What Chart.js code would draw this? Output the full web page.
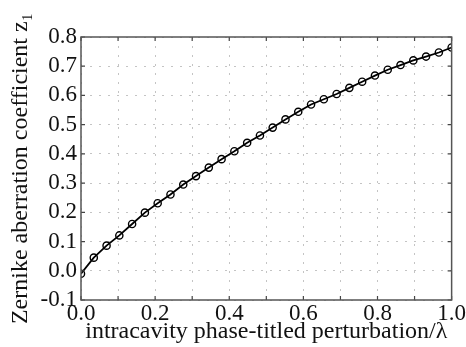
<!DOCTYPE html>
<html>
<head>
<meta charset="utf-8">
<script src="https://cdn.jsdelivr.net/npm/chart.js@4/dist/chart.umd.min.js"></script>
<style>
html,body{margin:0;padding:0;background:#fff;}
#wrap{width:466px;height:347px;}
</style>
</head>
<body>
<div id="wrap"><canvas id="c" width="466" height="347"></canvas></div>
<script>
// x positions of the sampled points (perturbation / lambda)
const perturbation = [0, 0.0345, 0.069, 0.1034, 0.1379, 0.1724, 0.2069, 0.2414, 0.2759, 0.3103,
  0.3448, 0.3793, 0.4138, 0.4483, 0.4828, 0.5172, 0.5517, 0.5862, 0.6207, 0.6552,
  0.6897, 0.7241, 0.7586, 0.7931, 0.8276, 0.8621, 0.8966, 0.9310, 0.9655, 1.0];
// Zernike aberration coefficient z1
const zernikeZ1 = [-0.01, 0.045, 0.086, 0.121, 0.160, 0.199, 0.231, 0.261, 0.295, 0.324,
  0.353, 0.382, 0.409, 0.438, 0.463, 0.490, 0.518, 0.544, 0.569, 0.587,
  0.605, 0.626, 0.647, 0.668, 0.688, 0.704, 0.720, 0.733, 0.747, 0.764];
const xTitle = 'intracavity phase-titled perturbation/\u03BB';
const yTitle = 'Zernike aberration coefficient z\u2081';

const serif = 'Liberation Serif';

const frame = {
  id: 'frame',
  afterDraw(chart) {
    const ctx = chart.ctx;
    const a = chart.chartArea;
    const xs = chart.scales.x, ys = chart.scales.y;
    ctx.save();
    ctx.strokeStyle = '#444';
    ctx.lineWidth = 1.2;
    ctx.beginPath();
    xs.ticks.forEach(t => {
      const p = xs.getPixelForValue(t.value);
      ctx.moveTo(p, a.bottom); ctx.lineTo(p, a.bottom - 4);
      ctx.moveTo(p, a.top); ctx.lineTo(p, a.top + 4);
    });
    ys.ticks.forEach(t => {
      const p = ys.getPixelForValue(t.value);
      ctx.moveTo(a.left, p); ctx.lineTo(a.left + 4, p);
      ctx.moveTo(a.right, p); ctx.lineTo(a.right - 4, p);
    });
    ctx.stroke();
    ctx.strokeStyle = '#555';
    ctx.lineWidth = 1.5;
    ctx.strokeRect(a.left, a.top, a.right - a.left, a.bottom - a.top);
    ctx.restore();
  }
};

new Chart(document.getElementById('c'), {
  type: 'line',
  data: {
    datasets: [{
      data: perturbation.map((x, i) => ({x: x, y: zernikeZ1[i]})),
      borderColor: '#000',
      borderWidth: 1.8,
      pointRadius: 3.6,
      pointBorderWidth: 1.4,
      pointBorderColor: '#000',
      pointBackgroundColor: 'rgba(255,255,255,0)',
      tension: 0
    }]
  },
  options: {
    responsive: false,
    devicePixelRatio: 1,
    animation: false,
    layout: {padding: {left: 0, top: 37, right: 14, bottom: 0}},
    plugins: {legend: {display: false}, tooltip: {enabled: false}},
    scales: {
      x: {
        type: 'linear', min: 0, max: 1,
        afterFit(s) { s.height = 47; },
        ticks: {
          stepSize: 0.1, autoSkip: false, maxRotation: 0, padding: 0,
          color: '#111', font: {family: serif, size: 23},
          callback: v => (Math.round(v * 10) % 2 === 0) ? v.toFixed(1) : ''
        },
        grid: {color: '#c4c4c4', lineWidth: 1, drawTicks: false},
        border: {display: false, dash: [2, 7]},
        title: {display: true, text: xTitle, color: '#111',
          font: {family: serif, size: 24}, padding: {top: 0, bottom: 1}}
      },
      y: {
        min: -0.1, max: 0.8,
        afterFit(s) { s.width = 81; },
        ticks: {
          stepSize: 0.1, autoSkip: false, padding: 4,
          color: '#111', font: {family: serif, size: 23},
          callback: v => v.toFixed(1)
        },
        grid: {color: '#c4c4c4', lineWidth: 1, drawTicks: false},
        border: {display: false, dash: [2, 7]},
        title: {display: true, text: yTitle, color: '#111',
          font: {family: serif, size: 24}, padding: {top: 6, bottom: 0}}
      }
    }
  },
  plugins: [frame]
});
</script>
</body>
</html>
